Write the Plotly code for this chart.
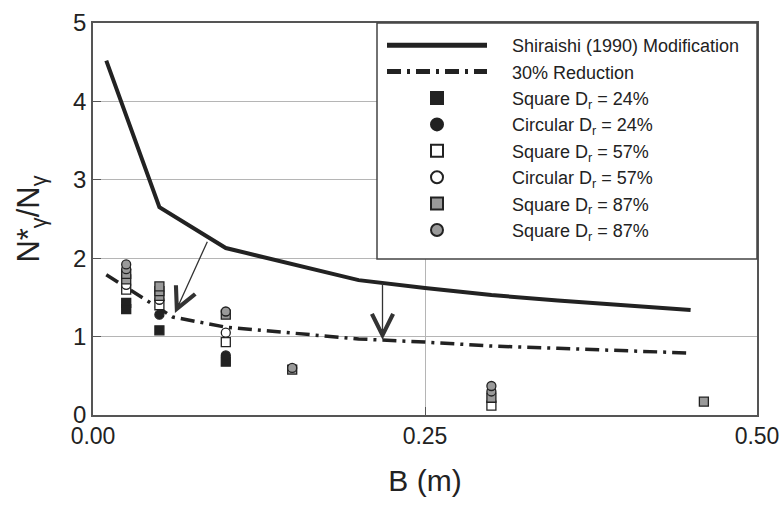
import plotly.graph_objects as go

# ---- data ----
shiraishi_B = [0.01, 0.05, 0.10, 0.15, 0.20, 0.25, 0.30, 0.35, 0.40, 0.45]
shiraishi_N = [4.52, 2.65, 2.13, 1.92, 1.72, 1.62, 1.53, 1.46, 1.40, 1.34]

reduction_B = [0.01, 0.06, 0.10, 0.15, 0.20, 0.25, 0.30, 0.35, 0.40, 0.45]
reduction_N = [1.79, 1.25, 1.12, 1.04, 0.97, 0.93, 0.88, 0.85, 0.82, 0.79]

sq24_B = [0.025, 0.025, 0.05, 0.10]
sq24_N = [1.43, 1.35, 1.08, 0.68]
ci24_B = [0.05, 0.10]
ci24_N = [1.28, 0.76]
sq57_B = [0.025, 0.05, 0.10, 0.30]
sq57_N = [1.60, 1.40, 0.93, 0.12]
ci57_B = [0.025, 0.05, 0.10]
ci57_N = [1.66, 1.47, 1.05]
sq87_B = [0.025, 0.025, 0.05, 0.05, 0.05, 0.10, 0.15, 0.30, 0.46]
sq87_N = [1.73, 1.80, 1.52, 1.58, 1.64, 1.28, 0.58, 0.22, 0.17]
ci87_B = [0.025, 0.025, 0.10, 0.15, 0.30, 0.30]
ci87_N = [1.86, 1.92, 1.32, 0.60, 0.30, 0.37]

arrow_tail_B = [0.0866, 0.218]
arrow_tail_N = [2.23, 1.70]
arrow_head_B = [0.0617, 0.218]
arrow_head_N = [1.30, 0.96]

x_ticks = [0.0, 0.25, 0.5]
x_ticklabels = ["0.00", "0.25", "0.50"]
y_ticks = [0, 1, 2, 3, 4, 5]

DARK = "#222222"
GRAY = "#9a9a9a"
FONT = "Liberation Sans, Arial, sans-serif"
PAD = "\u00a0\u00a0\u00a0\u00a0"

fig = go.Figure()

fig.add_trace(go.Scatter(x=shiraishi_B, y=shiraishi_N, mode="lines",
                         name=PAD + "Shiraishi (1990) Modification", legendgroup="a",
                         line=dict(color=DARK, width=4)))
fig.add_trace(go.Scatter(x=reduction_B, y=reduction_N, mode="lines",
                         name=PAD + "30% Reduction", legendgroup="b",
                         line=dict(color=DARK, width=3.5, dash="14px,6px,3px,6px")))

def marker_trace(x, y, name, symbol, fill, group):
    return go.Scatter(x=x, y=y, mode="markers", name=PAD + name, legendgroup=group,
                      marker=dict(symbol=symbol, size=9, color=fill,
                                  line=dict(color=DARK, width=1.3)))

fig.add_trace(marker_trace(sq24_B, sq24_N, "Square D<sub>r</sub> = 24%", "square", DARK, "c"))
fig.add_trace(marker_trace(ci24_B, ci24_N, "Circular D<sub>r</sub> = 24%", "circle", DARK, "d"))
fig.add_trace(marker_trace(sq57_B, sq57_N, "Square D<sub>r</sub> = 57%", "square", "white", "e"))
fig.add_trace(marker_trace(ci57_B, ci57_N, "Circular D<sub>r</sub> = 57%", "circle", "white", "f"))
fig.add_trace(marker_trace(sq87_B, sq87_N, "Square D<sub>r</sub> = 87%", "square", GRAY, "g"))
fig.add_trace(marker_trace(ci87_B, ci87_N, "Square D<sub>r</sub> = 87%", "circle", GRAY, "h"))

for tx, ty, hx, hy in zip(arrow_tail_B, arrow_tail_N, arrow_head_B, arrow_head_N):
    fig.add_annotation(x=hx, y=hy, ax=tx, ay=ty, xref="x", yref="y", axref="x", ayref="y",
                       text="", showarrow=True, arrowhead=5, arrowsize=3.2,
                       arrowwidth=1.3, arrowcolor="#333333")

L, R, T, B = 93, 24, 23, 92
W, H = 781, 507
pw, ph = W - L - R, H - T - B

# legend frame box
fig.add_shape(type="rect", xref="paper", yref="paper",
              x0=(377 - L) / pw, x1=1.0, y0=1 - (259 - T) / ph, y1=1.0,
              line=dict(color="#444444", width=1.5), fillcolor="white", layer="above")

fig.update_layout(
    width=W, height=H,
    margin=dict(l=L, r=R, t=T, b=B, autoexpand=False),
    paper_bgcolor="white", plot_bgcolor="white",
    font=dict(family=FONT, color=DARK),
    showlegend=True,
    legend=dict(x=(382 - L) / pw, y=1 - (27 - T) / ph, xanchor="left", yanchor="top",
                bgcolor="rgba(0,0,0,0)", borderwidth=0, font=dict(size=18, family=FONT, color=DARK),
                itemwidth=100, traceorder="grouped", tracegroupgap=0, itemsizing="constant"),
    xaxis=dict(range=[0, 0.5], tickvals=x_ticks, ticktext=x_ticklabels,
               showgrid=True, gridcolor="#b5b5b5", gridwidth=1,
               ticks="inside", ticklen=8, tickcolor="#555555",
               showline=True, linecolor="#555555", linewidth=1.5, mirror=True,
               zeroline=False, tickfont=dict(size=23), automargin=False,
               title=dict(text="B (m)", font=dict(size=30), standoff=22)),
    yaxis=dict(range=[0, 5], tickvals=y_ticks,
               showgrid=True, gridcolor="#b5b5b5", gridwidth=1,
               ticks="inside", ticklen=8, tickcolor="#555555",
               showline=True, linecolor="#555555", linewidth=1.5, mirror=True,
               zeroline=False, tickfont=dict(size=24), automargin=False,
               title=dict(text="N*<sub>γ</sub>/N<sub>γ</sub>", font=dict(size=31), standoff=24)),
)

fig.write_html("out.html", config={"displayModeBar": False},
               post_script="document.body.style.margin='0';document.body.style.overflow='hidden';")
